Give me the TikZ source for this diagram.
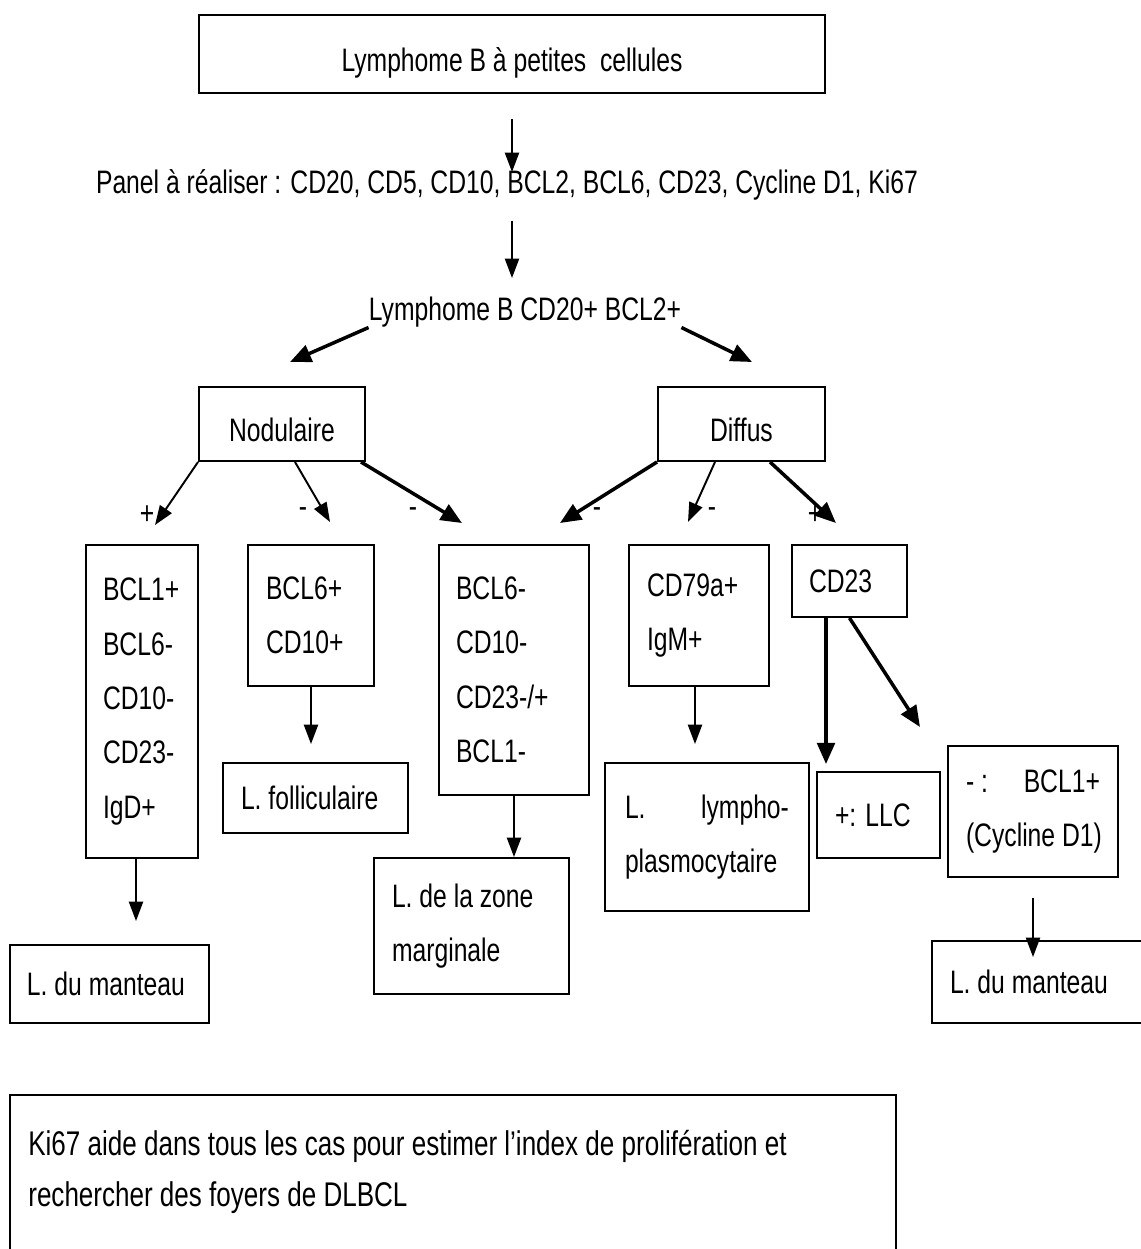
\documentclass[tikz,border=0pt]{standalone}
\usepackage{fontspec}
\setmainfont{Liberation Sans}[FakeStretch=0.76]
\usetikzlibrary{arrows.meta, positioning}

\begin{document}
\begin{tikzpicture}[x=0.02cm, y=-0.02cm,
    every node/.style={font=\fontsize{18.5}{31}\selectfont, inner sep=0pt},
    box/.style 2 args={draw, line width=1.1pt, minimum width=#1*0.02cm, minimum height=#2*0.02cm},
    lbox/.style n args={3}{box={#1}{#2}, align=flush left, text width=#3*0.02cm},
    low/.style={text height=24pt, text depth=4pt},
    arr/.style={-{Triangle[length=11pt, width=8pt]}, line width=1.1pt},
    thickarr/.style={-{Triangle[length=12pt, width=10pt]}, line width=2pt}]
          \useasboundingbox (0,0) rectangle (1141,1249);
          % top of the tree
          \node (top) [box={626}{78}, low] at (512,54) {Lymphome B à petites\ \ cellules};
          \node (panel) at (507,185) {Panel à réaliser : CD20, CD5, CD10, BCL2, BCL6, CD23, Cycline D1, Ki67};
          \node (cd20) at (525,312) {Lymphome B CD20+ BCL2+};
          \node (nod) [box={166}{74}, low] at (282,424) {Nodulaire};
          \node (dif) [box={167}{74}, low] at (741.5,424) {Diffus};
          % marker boxes
          \node (mkA) [lbox={112}{313}{78}] at (142,701.5) {BCL1+\\BCL6-\\CD10-\\CD23-\\IgD+};
          \node (mkB) [lbox={126}{141}{90}] at (311,615.5) {BCL6+\\CD10+};
          \node (mkC) [lbox={150}{250}{116}] at (514,670) {BCL6-\\CD10-\\CD23-/+\\BCL1-};
          \node (mkD) [lbox={140}{141}{104}] at (699,615.5) {CD79a+\\IgM+};
          \node (mkE) [lbox={115}{72}{81}] at (849.5,581) {CD23};
          \node (llc) [lbox={123}{86}{87}] at (878.5,815) {+: LLC};
          \node (bclun) [lbox={170}{131}{134}] at (1033,811.5) {\makebox[2.68cm]{- :\hfill BCL1+}\\\mbox{(Cycline D1)}};
          % diagnoses
          \node (mant1) [lbox={199}{78}{165}] at (109.5,984) {L. du manteau};
          \node (foll) [lbox={185}{70}{149}] at (315.5,798) {L. folliculaire};
          \node (zone) [lbox={195}{136}{159}] at (471.5,926) {L. de la zone\\marginale};
          \node (lympho) [lbox={204}{148}{164}] at (707,837) {\makebox[3.28cm]{L.\hfill lympho-}\\plasmocytaire};
          \node (mant2) [lbox={218}{82}{182}] at (1041,982) {L. du manteau};
          \node (note) [box={886}{180}] at (453,1185) {};
          \node (notetxt) [align=flush left, anchor=west, font=\fontsize{19.5}{29}\selectfont] at (28,1171.5) {Ki67 aide dans tous les cas pour estimer l’index de prolifération et\\rechercher des foyers de DLBCL};
          % signs next to the arrow tips
          \foreach \n/\s/\x/\y in {sA/+/147/515, sB/-/303/513, sC/-/413/513, sD/-/597/513, sE/-/712/513, sF/+/815/515}
            \node (\n) at (\x,\y) {\s};
          % free arrow ends
          \coordinate (t1) at (512,172);
          \coordinate (t2) at (512,278);
          \coordinate (tL) at (290,362);
          \coordinate (tR) at (752,362);
          \coordinate (tA) at (155,525);
          \coordinate (tB) at (330,522);
          \coordinate (tC) at (462,523);
          \coordinate (tD) at (560,523);
          \coordinate (tE) at (688,522);
          \coordinate (tF) at (836,523);
          \coordinate (tG) at (920,727);
          \coordinate (eS) at ([xshift=-0.47cm]mkE.south);
          \draw[arr] ([yshift=-0.5cm]top.south) -- (t1);
          \draw[arr] ([yshift=-0.4cm]panel.south -| top.south) -- (t2);
          \draw[thickarr] (cd20.south west) -- (tL);
          \draw[thickarr] (cd20.south east) -- (tR);
          \draw[arr] (nod.south west) -- (tA);
          \draw[arr] ([xshift=0.26cm]nod.south) -- (tB);
          \draw[thickarr] ([xshift=-0.1cm]nod.south east) -- (tC);
          \draw[thickarr] (dif.south west) -- (tD);
          \draw[arr] ([xshift=-0.53cm]dif.south) -- (tE);
          \draw[thickarr] ([xshift=0.57cm]dif.south) -- (tF);
          \draw[arr] ([xshift=-0.12cm]mkA.south) -- ([xshift=-0.12cm, yshift=0.46cm]mant1.north -| mkA.south);
          \draw[arr] (mkB.south) -- ([yshift=0.36cm]foll.north -| mkB.south);
          \draw[arr] (mkC.south) -- (zone.north -| mkC.south);
          \draw[arr] ([xshift=-0.08cm]mkD.south) -- ([xshift=-0.08cm, yshift=0.36cm]lympho.north -| mkD.south);
          \draw[thickarr] (eS) -- ([yshift=0.14cm]llc.north -| eS);
          \draw[thickarr] (mkE.south) -- (tG);
          \draw[arr] ([yshift=-0.4cm]bclun.south) -- ([yshift=-0.34cm]mant2.north -| bclun.south);
        \end{tikzpicture}
\end{document}
